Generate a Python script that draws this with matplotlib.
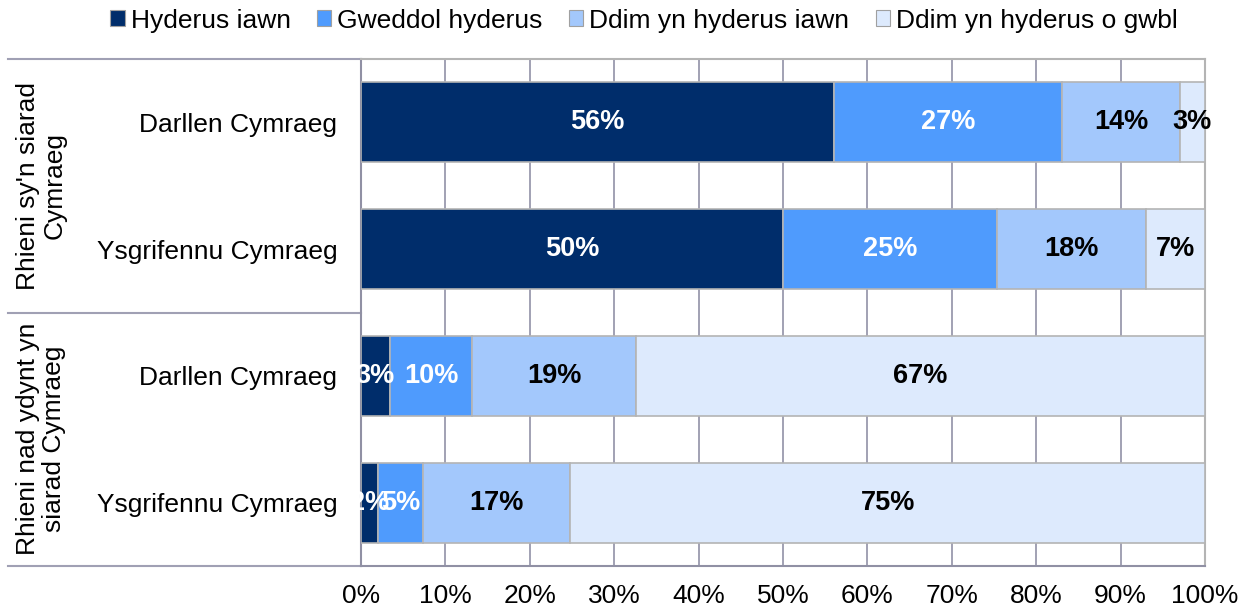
import matplotlib.pyplot as plt
import numpy as np
from matplotlib.patches import Patch
from matplotlib.lines import Line2D

plt.rcParams['font.family'] = ['Liberation Sans', 'DejaVu Sans']

categories = ['Darllen Cymraeg', 'Ysgrifennu Cymraeg', 'Darllen Cymraeg', 'Ysgrifennu Cymraeg']
groups = ["Rhieni sy'n siarad\nCymraeg", 'Rhieni nad ydynt yn\nsiarad Cymraeg']
series = ['Hyderus iawn', 'Gweddol hyderus', 'Ddim yn hyderus iawn', 'Ddim yn hyderus o gwbl']
hyderus_iawn = [56.0, 50.0, 3.4, 2.0]
gweddol = [27.1, 25.4, 9.8, 5.4]
ddim_iawn = [13.9, 17.6, 19.4, 17.4]
ddim_gwbl = [3.0, 7.0, 67.4, 75.2]
xticks = [0, 10, 20, 30, 40, 50, 60, 70, 80, 90, 100]

colors = ['#002D6B', '#4F9BFD', '#A3C8FC', '#DDEAFD']
text_colors = ['white', 'white', 'black', 'black']

fig = plt.figure(figsize=(12.48, 6.09), dpi=100)
ax = fig.add_axes([361/1248, 43/609, 844/1248, 507/609])

ypos = np.arange(len(categories)) + 0.5
left = np.zeros(len(categories))
for vals, col, tcol in zip([hyderus_iawn, gweddol, ddim_iawn, ddim_gwbl], colors, text_colors):
    vals = np.array(vals)
    ax.barh(ypos, vals, left=left, height=0.63, color=col, edgecolor='#B4B4B4',
            linewidth=1.2, zorder=3)
    for y, l, v in zip(ypos, left, vals):
        ax.text(l + v / 2, y, f'{round(v)}%', ha='center', va='center', color=tcol,
                fontsize=19.5, fontweight='bold', zorder=4)
    left += vals

ax.set_xlim(0, 100)
ax.set_ylim(4, 0)
ax.set_xticks(xticks)
ax.set_xticklabels([f'{t}%' for t in xticks], fontsize=19)
ax.set_yticks(ypos)
ax.set_yticklabels(categories, fontsize=19)
ax.tick_params(axis='x', length=0, pad=13)
ax.tick_params(axis='y', length=0, pad=17)
ax.grid(axis='x', color='#9A9AAE', linewidth=1.3, zorder=0)
for s in ['left', 'bottom']:
    ax.spines[s].set_color('#9090A4')
    ax.spines[s].set_linewidth(1.5)
for s in ['top', 'right']:
    ax.spines[s].set_color('#B4B4B4')
    ax.spines[s].set_linewidth(1.5)

# group separators and labels
for yl in [0, 2, 4]:
    ax.add_line(Line2D([-41.8, 0], [yl, yl], color='#A0A0B4', linewidth=1.5,
                       clip_on=False))
for i, g in enumerate(groups):
    ax.text(-37.9, 1 + 2 * i, g, rotation=90, ha='center', va='center',
            multialignment='center', fontsize=19, linespacing=1.12)

handles = [Patch(facecolor=c, edgecolor='#A0A0A0', linewidth=0.8) for c in colors]
fig.legend(handles, series, loc='center', bbox_to_anchor=(0.516, 0.966), ncol=4,
           frameon=False, fontsize=19, handlelength=0.55, handleheight=0.55,
           handletextpad=0.22, columnspacing=1.0)

fig.savefig('out.png', dpi=100)
